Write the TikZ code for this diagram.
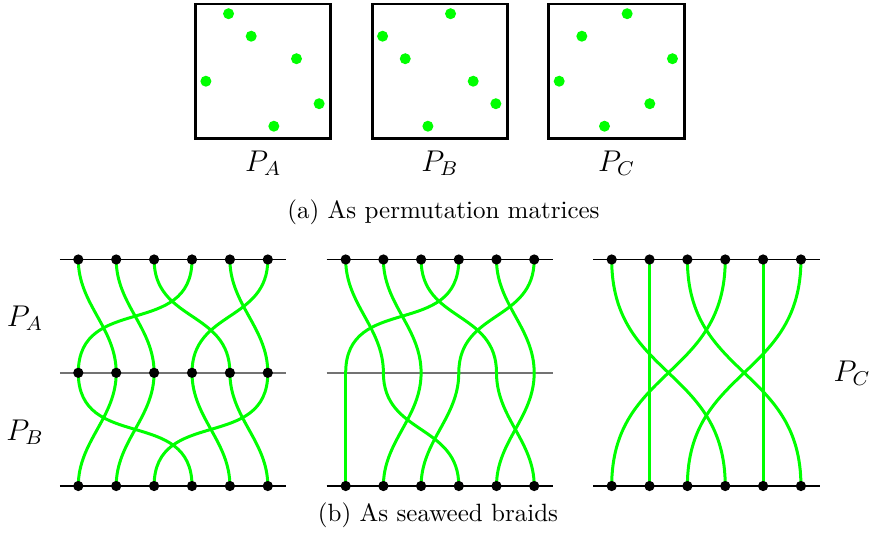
\documentclass[tikz,border=0pt]{standalone}
\definecolor{seaweed}{RGB}{0,255,0}
\pgfdeclarelayer{bg}
\pgfsetlayers{bg,main}
\begin{document}
\begin{tikzpicture}[x=0.4pt,y=-0.4pt,
  box/.style={draw=black,line width=1.15pt},
  gdot/.style={circle,fill=seaweed,inner sep=0pt,minimum size=4.4pt},
  bdot/.style={circle,fill=black,inner sep=0pt,minimum size=4.1pt},
  strand/.style={draw=seaweed,line width=1.2pt},
  rail/.style={draw=black,line width=0.45pt},
  midrail/.style={draw=black!55,line width=0.6pt},
  plab/.style={font=\large}]
\useasboundingbox (0,0) rectangle (869,536);

% (a) permutation matrices
\foreach \n/\bx in {A/195.5,B/372.2,C/548.8}{
  \draw[box] (\bx,4) rectangle ++(135.3,134.3);
}
\foreach \r/\c in {0/1,1/2,2/4,3/0,4/5,5/3}{
  \node[gdot] (pa\r) at ({205.9+22.65*\c},{13.7+22.5*\r}) {};
}
\foreach \r/\c in {0/3,1/0,2/1,3/4,4/5,5/2}{
  \node[gdot] (pb\r) at ({382.6+22.65*\c},{13.7+22.5*\r}) {};
}
\foreach \r/\c in {0/3,1/1,2/5,3/0,4/4,5/2}{
  \node[gdot] (pc\r) at ({559.2+22.65*\c},{13.7+22.5*\r}) {};
}
\node[plab] (labA) at (263.2,163) {$P_A$};
\node[plab] (labB) at (439.9,163) {$P_B$};
\node[plab] (labC) at (616.5,163) {$P_C$};
\node (capa) at (443.5,212) {(a) As permutation matrices};

% (b) seaweed braids
\foreach \i in {0,...,5}{
  \node[bdot] (Lt\i) at ({78.3+37.9*\i},259.5) {};
  \node[bdot] (Lm\i) at ({78.3+37.9*\i},372.8) {};
  \node[bdot] (Lb\i) at ({78.3+37.9*\i},486) {};
  \node[bdot] (Mt\i) at ({345.7+37.7*\i},259.5) {};
  \coordinate (Mm\i) at ({345.7+37.7*\i},372.8);
  \node[bdot] (Mb\i) at ({345.7+37.7*\i},486) {};
  \node[bdot] (Rt\i) at ({611.7+37.85*\i},259.5) {};
  \node[bdot] (Rb\i) at ({611.7+37.85*\i},486) {};
}
\begin{pgfonlayer}{bg}
  \draw[rail] ([xshift=-7.4pt]Lt0.center) -- ([xshift=7.4pt]Lt5.center);
  \draw[midrail] ([xshift=-7.4pt]Lm0.center) -- ([xshift=7.4pt]Lm5.center);
  \draw[rail] ([xshift=-7.4pt]Lb0.center) -- ([xshift=7.4pt]Lb5.center);
  \draw[rail] ([xshift=-7.6pt]Mt0.center) -- ([xshift=7.6pt]Mt5.center);
  \draw[midrail] ([xshift=-7.6pt]Mm0) -- ([xshift=7.6pt]Mm5);
  \draw[rail] ([xshift=-7.6pt]Mb0.center) -- ([xshift=7.6pt]Mb5.center);
  \draw[rail] ([xshift=-7.4pt]Rt0.center) -- ([xshift=7.6pt]Rt5.center);
  \draw[rail] ([xshift=-7.4pt]Rb0.center) -- ([xshift=7.6pt]Rb5.center);
  \foreach \i/\j in {0/1,1/2,2/4,3/0,4/5,5/3}{
    \pgfmathsetmacro\kk{27.5+0.46*abs(37.8*(\j-\i))}
    \draw[strand] (Lt\i.center) .. controls +(0,\kk) and +(0,-\kk) .. (Lm\j.center);
    \draw[strand] (Mt\i.center) .. controls +(0,\kk) and +(0,-\kk) .. (Mm\j);
  }
  \foreach \i/\j in {0/3,1/0,2/1,3/4,4/5,5/2}{
    \pgfmathsetmacro\kk{27.5+0.46*abs(37.8*(\j-\i))}
    \draw[strand] (Lm\i.center) .. controls +(0,\kk) and +(0,-\kk) .. (Lb\j.center);
  }
  \foreach \i/\j in {0/0,1/3,2/1,3/2,4/5,5/4}{
    \pgfmathsetmacro\kk{27.5+0.46*abs(37.8*(\j-\i))}
    \draw[strand] (Mm\i) .. controls +(0,\kk) and +(0,-\kk) .. (Mb\j.center);
  }
  \foreach \i/\j in {0/3,1/1,2/5,3/0,4/4,5/2}{
    \draw[strand] (Rt\i.center) .. controls +(0,118) and +(0,-118) .. (Rb\j.center);
  }
\end{pgfonlayer}
\node[plab] (lpa) at (25,318) {$P_A$};
\node[plab] (lpb) at (25,432) {$P_B$};
\node[plab] (lpc) at (852,373) {$P_C$};
\node (capb) at (438,515) {(b) As seaweed braids};
\end{tikzpicture}
\end{document}
